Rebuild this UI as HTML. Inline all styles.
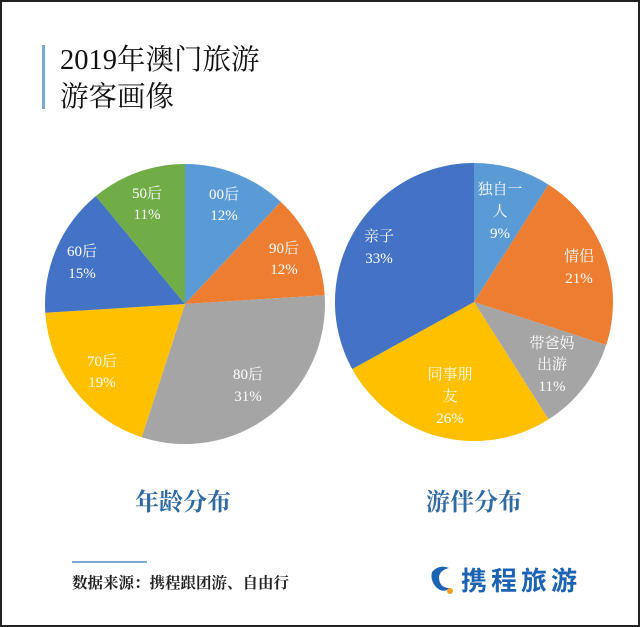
<!DOCTYPE html>
<html><head><meta charset="utf-8"><style>
html,body{margin:0;padding:0;background:#fff}
#w{position:relative;width:640px;height:627px;box-sizing:border-box;border:2px solid #222;overflow:hidden;background:#fff}
svg{position:absolute;left:0;top:0}
</style></head><body><div id="w">
<svg width="640" height="627" viewBox="0 0 640 627" xmlns="http://www.w3.org/2000/svg">
<rect x="40" y="43" width="3" height="64" fill="#7aaad0"/>
<g font-family="'Liberation Serif','Noto Serif CJK SC',serif" fill="#111" font-size="28.5">
<text x="58" y="67">2019年澳门旅游</text>
<text x="58" y="104">游客画像</text>
</g>
<!-- left pie -->
<path d="M183,302 L183,162 A140,140 0 0 1 278.8,199.9Z" fill="#5b9bd5"/>
<path d="M183,302 L278.8,199.9 A140,140 0 0 1 322.7,293.2Z" fill="#ed7d31"/>
<path d="M183,302 L322.7,293.2 A140,140 0 0 1 139.7,435.2Z" fill="#a5a5a5"/>
<path d="M183,302 L139.7,435.2 A140,140 0 0 1 43.3,310.8Z" fill="#ffc000"/>
<path d="M183,302 L43.3,310.8 A140,140 0 0 1 93.8,194.1Z" fill="#4472c4"/>
<path d="M183,302 L93.8,194.1 A140,140 0 0 1 183,162Z" fill="#70ad47"/>
<!-- right pie -->
<path d="M472,300 L472,161 A139,139 0 0 1 546.5,182.6Z" fill="#5b9bd5"/>
<path d="M472,300 L546.5,182.6 A139,139 0 0 1 604.2,343Z" fill="#ed7d31"/>
<path d="M472,300 L604.2,343 A139,139 0 0 1 546.5,417.4Z" fill="#a5a5a5"/>
<path d="M472,300 L546.5,417.4 A139,139 0 0 1 350.2,367Z" fill="#ffc000"/>
<path d="M472,300 L350.2,367 A139,139 0 0 1 472,161Z" fill="#4472c4"/>
<g font-family="'Liberation Serif','Noto Serif CJK SC',serif" fill="#fff" font-size="15" text-anchor="middle" dominant-baseline="central">
<text x="222" y="193">00后</text><text x="222" y="214">12%</text>
<text x="282" y="247">90后</text><text x="282" y="268">12%</text>
<text x="246" y="373">80后</text><text x="246" y="395">31%</text>
<text x="100" y="360">70后</text><text x="100" y="381">19%</text>
<text x="80" y="250">60后</text><text x="80" y="272">15%</text>
<text x="145" y="192">50后</text><text x="145" y="213">11%</text>
<text x="498" y="188">独自一</text><text x="498" y="210">人</text><text x="498" y="232">9%</text>
<text x="577" y="255">情侣</text><text x="577" y="277">21%</text>
<text x="550" y="342">带爸妈</text><text x="550" y="363">出游</text><text x="550" y="385">11%</text>
<text x="448" y="373">同事朋</text><text x="448" y="395">友</text><text x="448" y="417">26%</text>
<text x="377" y="235">亲子</text><text x="377" y="257">33%</text>
</g>
<g font-family="'Liberation Serif','Noto Serif CJK SC',serif" fill="#2f6aa3" font-size="24" font-weight="bold" text-anchor="middle">
<text x="181" y="508">年龄分布</text>
<text x="472" y="508">游伴分布</text>
</g>
<rect x="70" y="559" width="75" height="2" fill="#7aaad0"/>
<text x="70" y="586" font-family="'Liberation Serif','Noto Serif CJK SC',serif" font-size="15.5" font-weight="bold" fill="#222">数据来源：携程跟团游、自由行</text>
<path d="M430,570 q7,-8 17,-4 q-9,2 -10,9 q0,11 11,11 q-7,6 -14,-1 q-6,-7 -4,-15Z" fill="#1d63b4"/>
<circle cx="448" cy="589" r="3" fill="#f0a020"/>
<text x="459" y="588" font-family="'Noto Sans CJK SC',sans-serif" font-size="26" font-weight="bold" fill="#1d63b4" textLength="116">携程旅游</text>
</svg>
</div></body></html>
